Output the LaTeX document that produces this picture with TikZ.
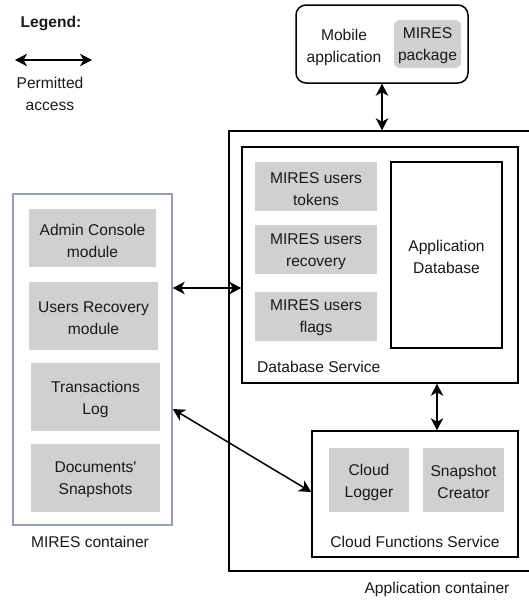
\documentclass[tikz,border=0pt]{standalone}
\usepackage{fontspec}
\setmainfont{Liberation Sans}
\usetikzlibrary{arrows.meta}
\definecolor{boxgray}{RGB}{208,208,208}
\definecolor{mirescol}{RGB}{150,160,180}
\definecolor{txt}{RGB}{25,25,25}
\begin{document}
\begin{tikzpicture}[x=1pt,y=-1pt,
  every node/.style={font=\fontsize{15.6}{22}\selectfont, align=center, inner sep=0pt, text=txt},
  frame/.style={draw=black, line width=1.5pt, fill=white},
  graybox/.style={fill=boxgray, draw=none},
  acc/.style={line width=1.5pt, {Stealth[length=12pt,width=12.5pt,inset=3.5pt]}-{Stealth[length=12pt,width=12.5pt,inset=3.5pt]}}
]
\useasboundingbox (0,0) rectangle (529,600);
\begin{scope}
\clip (0,0) rectangle (529,600);
% Legend
\node[font=\fontsize{15.6}{22}\selectfont\bfseries] (legtitle) at (51,23) {Legend:};
\coordinate (legA) at (15,60);
\coordinate (legB) at (92,60);
\draw[acc] (legA) -- (legB);
\node (legtext) at (50,94) {Permitted\\access};

% Mobile application
\node[frame, rounded corners=10pt, minimum width=172pt, minimum height=78pt] (mob) at (382,44) {};
\node (mobtext) at (344,47) {Mobile\\application};
\node[graybox, rounded corners=6pt, minimum width=67pt, minimum height=48pt] (pkg) at (427.5,44) {};
\node (pkgtext) at (427.5,46) {MIRES\\package};

% Application container
\node[draw=black, line width=1.5pt, minimum width=302pt, minimum height=440pt] (appc) at (380,351) {};
\node (appclabel) at (437,589) {Application container};

% Database service
\node[frame, minimum width=276pt, minimum height=236pt] (db) at (380,265) {};
\node[graybox, minimum width=122pt, minimum height=49pt] (tok) at (316,186.5) {};
\node[graybox, minimum width=122pt, minimum height=49pt] (rec) at (316,249.5) {};
\node[graybox, minimum width=122pt, minimum height=49pt] (flg) at (316,316) {};
\node (toktext) at (316,189) {MIRES users\\tokens};
\node (rectext) at (316,252) {MIRES users\\recovery};
\node (flgtext) at (316,318) {MIRES users\\flags};
\node[frame, minimum width=111pt, minimum height=186pt] (adb) at (446.5,255) {};
\node (adbtext) at (446.5,257) {Application\\Database};
\node[anchor=west] (dblabel) at (257,367) {Database Service};

% Cloud functions service
\node[frame, minimum width=206pt, minimum height=126pt] (cloud) at (415,494) {};
\node[graybox, minimum width=80pt, minimum height=64pt] (logger) at (369,480) {};
\node[graybox, minimum width=81pt, minimum height=64pt] (snap) at (463.5,480) {};
\node (loggertext) at (369,482) {Cloud\\Logger};
\node (snaptext) at (463.5,482) {Snapshot\\Creator};
\node (cloudlabel) at (415,542) {Cloud Functions Service};

% MIRES container
\node[draw=mirescol, line width=1.5pt, minimum width=159pt, minimum height=331pt] (mires) at (92.5,359.5) {};
\node (mireslabel) at (90,542) {MIRES container};
\node[graybox, minimum width=127pt, minimum height=58pt] (admin) at (92.5,238) {};
\node[graybox, minimum width=129pt, minimum height=68pt] (urec) at (93.5,316) {};
\node[graybox, minimum width=129pt, minimum height=68pt] (trans) at (95.5,397) {};
\node[graybox, minimum width=129pt, minimum height=68pt] (docs) at (95.5,478) {};
\node (admintext) at (92.5,240.5) {Admin Console\\module};
\node (urectext) at (93.5,318) {Users Recovery\\module};
\node (transtext) at (95.5,399) {Transactions\\Log};
\node (docstext) at (95.5,480) {Documents\textquotesingle\\Snapshots};

% Connectors
\draw[acc] (mob.south) -- (mob.south |- appc.north);
\draw[acc] (db.south -| 437,0) -- (cloud.north -| 437,0);
\coordinate (hy) at (0,288);
\draw[acc] (mires.east |- hy) -- (db.west |- hy);
\coordinate (d1) at (0,409);
\coordinate (d2) at (0,492);
\draw[acc] (mires.east |- d1) -- (cloud.west |- d2);
\end{scope}
\end{tikzpicture}
\end{document}
